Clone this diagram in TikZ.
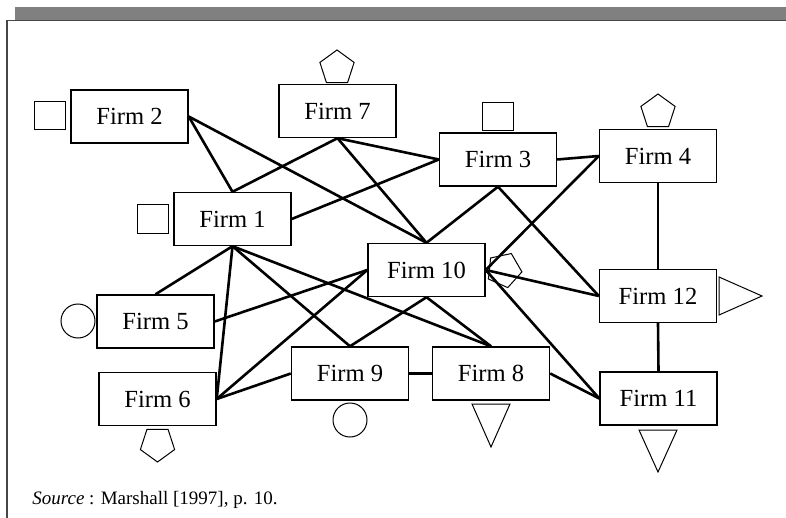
\documentclass[tikz,border=0pt]{standalone}
\usepackage{fontspec}
\setmainfont{Liberation Serif}
\usetikzlibrary{shapes.geometric}
\definecolor{bargray}{RGB}{128,128,128}
\definecolor{framegray}{RGB}{70,70,70}

\begin{document}
\begin{tikzpicture}[x=0.5pt, y=-0.5pt,
  firmnode/.style={draw, line width=0.7pt, minimum width=58.5pt, minimum height=26.5pt, inner sep=0pt, font=\fontsize{12.3}{14}\selectfont},
  link/.style={line width=1.3pt},
  sqmark/.style={draw, line width=0.5pt, minimum width=15.5pt, minimum height=14pt, inner sep=0pt},
  pentmark/.style={draw, line width=0.5pt, regular polygon, regular polygon sides=5, minimum size=18pt, inner sep=0pt},
  circmark/.style={draw, line width=0.5pt, circle, minimum size=17pt, inner sep=0pt},
  trimark/.style={line width=0.5pt, line join=miter}]
\useasboundingbox (0,0) rectangle (786,518);
% Frame
\fill[bargray] (15,7) rectangle (786,20);
\draw[framegray, line width=0.8pt] (7,518) -- (7,20.5) -- (786,20.5);
% Firms
\node[firmnode] (f2) at (129.5,116.5) {Firm 2};
\node[firmnode] (f7) at (337.5,111) {Firm 7};
\node[firmnode] (f1) at (232.5,219) {Firm 1};
\node[firmnode] (f3) at (498,159.5) {Firm 3};
\node[firmnode] (f4) at (658,156) {Firm 4};
\node[firmnode] (f10) at (426.5,270) {Firm 10};
\node[firmnode] (f12) at (658,296) {Firm 12};
\node[firmnode] (f5) at (155.5,321.5) {Firm 5};
\node[firmnode] (f6) at (157.5,399) {Firm 6};
\node[firmnode] (f9) at (350,373.5) {Firm 9};
\node[firmnode] (f8) at (491,373.5) {Firm 8};
\node[firmnode] (f11) at (658.5,398.5) {Firm 11};
% Markers
\node[sqmark] (m2) at (50,116) {};
\node[sqmark] (m1) at (153,219) {};
\node[sqmark] (m3) at (497.5,117) {};
\node[pentmark] (m7) at (337,68) {};
\node[pentmark] (m4) at (658,112) {};
\node[pentmark, shape border rotate=-96] (m10) at (504,270) {};
\node[pentmark, shape border rotate=180] (m6) at (157.5,444) {};
\node[circmark] (m5) at (78,321) {};
\node[circmark] (m9) at (350,420) {};
\draw[trimark] (719,277) -- (719,315) -- (762,296) -- cycle;
\draw[trimark] (472,404) -- (510,404) -- (491,447) -- cycle;
\draw[trimark] (639,430) -- (677,430) -- (658,472) -- cycle;
% Connections
\foreach \a/\b in {f2.east/f1.north, f2.east/f10.north, f7.south/f1.north,
  f7.south/f3.west, f7.south/f10.north, f1.east/f3.west, f3.east/f4.west,
  f3.south/f10.north, f3.south/f12.west, f4.west/f10.east, f10.east/f12.west,
  f10.east/f11.west, f4.south/f12.north, f12.south/f11.north, f1.south/f5.north,
  f1.south/f6.east, f1.south/f9.north, f1.south/f8.north, f5.east/f10.west,
  f6.east/f10.west, f6.east/f9.west, f9.north/f10.south, f10.south/f8.north,
  f9.east/f8.west, f8.east/f11.west} {
  \draw[link] (\a) -- (\b);
}
% Source
\node[anchor=base west, font=\fontsize{9.5}{11}\selectfont, inner sep=0pt] (src) at (32,504) {\textit{Source} : Marshall [1997], p. 10.};
\end{tikzpicture}
\end{document}
